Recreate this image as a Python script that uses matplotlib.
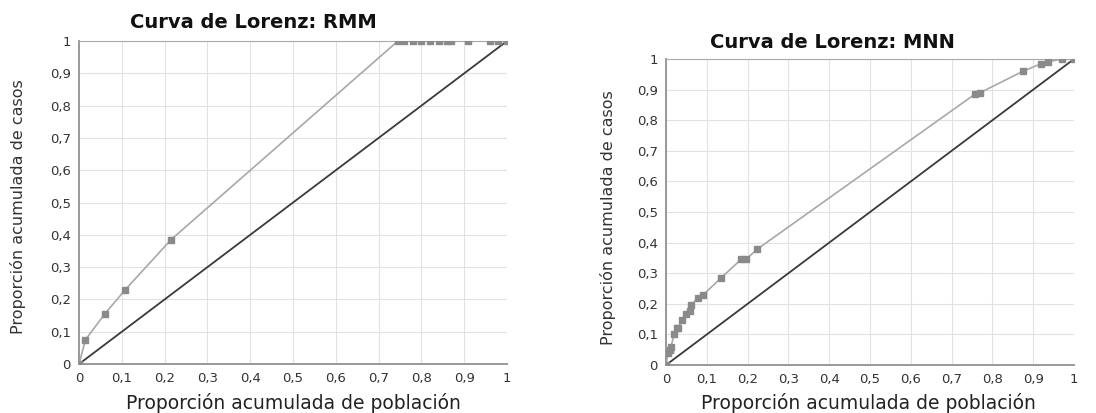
import matplotlib.pyplot as plt

# Curva de Lorenz: RMM
rmm_pob = [0, 0.015, 0.06, 0.108, 0.215, 0.745, 0.76, 0.78, 0.80, 0.82, 0.84, 0.86, 0.87, 0.91, 0.96, 0.98, 1.0]
rmm_casos = [0, 0.075, 0.155, 0.23, 0.385, 1.0, 1.0, 1.0, 1.0, 1.0, 1.0, 1.0, 1.0, 1.0, 1.0, 1.0, 1.0]

# Curva de Lorenz: MNN
mnn_pob = [0, 0.005, 0.01, 0.012, 0.02, 0.026, 0.03, 0.038, 0.05, 0.058, 0.062, 0.078, 0.09,
           0.135, 0.184, 0.196, 0.223, 0.757, 0.77, 0.875, 0.92, 0.935, 0.97, 1.0]
mnn_casos = [0, 0.04, 0.05, 0.06, 0.1, 0.12, 0.12, 0.147, 0.168, 0.175, 0.196, 0.22, 0.228,
             0.285, 0.345, 0.345, 0.378, 0.885, 0.89, 0.96, 0.985, 0.99, 1.0, 1.0]

ticks = [0, 0.1, 0.2, 0.3, 0.4, 0.5, 0.6, 0.7, 0.8, 0.9, 1]
tick_labels = ["0", "0,1", "0,2", "0,3", "0,4", "0,5", "0,6", "0,7", "0,8", "0,9", "1"]

fig = plt.figure(figsize=(10.96, 4.13), dpi=100)
ax1 = fig.add_axes([0.0721, 0.1186, 0.3905, 0.782])
ax2 = fig.add_axes([0.6077, 0.1162, 0.3723, 0.741])


def lorenz(ax, x, y, title, title_x, title_y, ylab_x, ylab_y, xlab_x):
    ax.grid(True, color="#e2e2e2", lw=0.8)
    ax.set_axisbelow(True)
    ax.plot([0, 1], [0, 1], color="#3a3a3a", lw=1.3, zorder=3)
    ax.plot(x, y, color="#a8a8a8", lw=1.2, marker="s", ms=4,
            mfc="#8a8a8a", mec="#8a8a8a", zorder=4)
    ax.set_xlim(0, 1)
    ax.set_ylim(0, 1)
    ax.set_xticks(ticks)
    ax.set_yticks(ticks)
    ax.set_xticklabels(tick_labels)
    ax.set_yticklabels(tick_labels)
    ax.tick_params(length=0, pad=6, labelsize=9.5, colors="#333333")
    for s in ["left", "bottom"]:
        ax.spines[s].set_color("#999999")
        ax.spines[s].set_linewidth(1.4)
    ax.spines["top"].set_color("#aaaaaa")
    ax.spines["right"].set_visible(False)
    fig.text(title_x, title_y, title, ha="center", va="center",
             fontsize=14, fontweight="bold", color="#111111")
    fig.text(ylab_x, ylab_y, "Proporción acumulada de casos", rotation=90,
             ha="center", va="center", fontsize=11.5, color="#333333")
    fig.text(xlab_x, 1 - 403 / 413, "Proporción acumulada de población",
             ha="center", va="center", fontsize=13.5, color="#222222")


lorenz(ax1, rmm_pob, rmm_casos, "Curva de Lorenz: RMM",
       253 / 1096, 1 - 22 / 413, 18 / 1096, 1 - 207 / 413, 293 / 1096)
lorenz(ax2, mnn_pob, mnn_casos, "Curva de Lorenz: MNN",
       832 / 1096, 1 - 42 / 413, 608 / 1096, 1 - 218 / 413, 868 / 1096)

fig.savefig("out.png", dpi=100)
